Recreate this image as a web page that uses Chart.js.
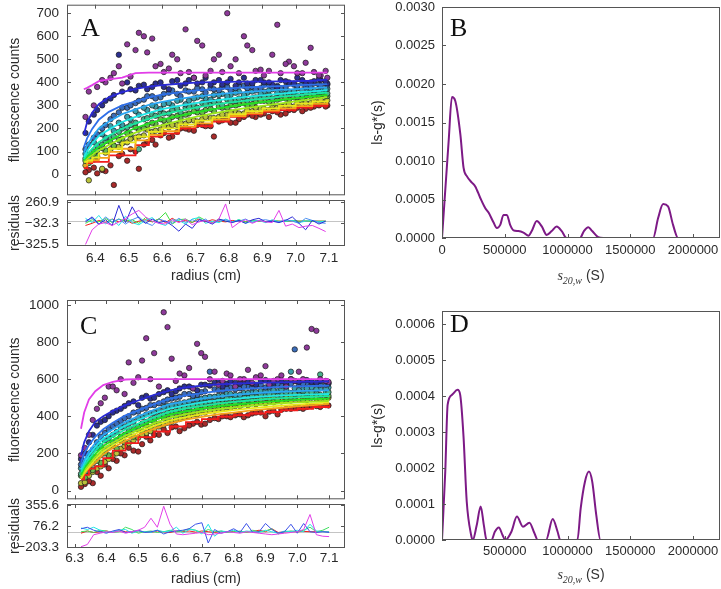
<!DOCTYPE html>
<html>
<head>
<meta charset="utf-8">
<script src="https://cdn.jsdelivr.net/npm/chart.js@4.4.1/dist/chart.umd.min.js"></script>
<style>
  body { margin: 0; background: #fff; width: 721px; height: 589px; overflow: hidden; position: relative;
         font-family: "Liberation Sans", Arial, sans-serif; }
  canvas { position: absolute; }
  .letter { position: absolute; font-family: "Liberation Serif", "Times New Roman", serif;
            font-size: 26px; line-height: 26px; color: #111; }
  .stitle { position: absolute; width: 200px; text-align: center; font-size: 14px; line-height: 16px; color: #333; }
  .stitle i { font-family: "Liberation Serif", serif; }
  .stitle sub { font-size: 10px; }
</style>
</head>
<body>
<canvas id="cA" width="360" height="200" style="left:0;top:0"></canvas>
<canvas id="rA" width="360" height="100" style="left:0;top:190px"></canvas>
<canvas id="cB" width="361" height="290" style="left:360px;top:0"></canvas>
<canvas id="cC" width="360" height="214" style="left:0;top:290px"></canvas>
<canvas id="rC" width="360" height="95" style="left:0;top:494px"></canvas>
<canvas id="cD" width="361" height="299" style="left:360px;top:290px"></canvas>

<div class="letter" style="left:81px;top:15px">A</div>
<div class="letter" style="left:450px;top:15px">B</div>
<div class="letter" style="left:80px;top:313px">C</div>
<div class="letter" style="left:450px;top:311px">D</div>
<div class="stitle" style="left:481px;top:267px"><i>s</i><sub><i>20,w</i></sub> (S)</div>
<div class="stitle" style="left:481px;top:566px"><i>s</i><sub><i>20,w</i></sub> (S)</div>

<script>
// ---- panel A: fitted curves ----
const XA = [6.365, 6.375, 6.39, 6.41, 6.44, 6.48, 6.52, 6.56, 6.60, 6.65, 6.70, 6.75, 6.80, 6.85, 6.90, 6.95, 7.00, 7.05, 7.095];
const A_MAGENTA = [370, 376, 388, 405, 413, 421, 440, 442, 442, 442, 442, 442, 442, 442, 442, 442, 442, 442, 442];
const A_NAVY = [173, 228, 268, 305, 335, 358, 372, 382, 388, 394, 399, 401, 402, 403, 403, 404, 405, 407, 412];
const A_BLUE = [118, 158, 198, 238, 272, 300, 318, 335, 347, 357, 365, 370, 374, 378, 381, 384, 387, 390, 392];
const A_SKY = [95, 128, 162, 200, 230, 262, 283, 302, 315, 328, 338, 346, 353, 358, 363, 367, 371, 375, 378];
const A_CYAN = [76, 102, 135, 168, 195, 228, 250, 268, 284, 298, 310, 320, 329, 337, 344, 350, 356, 361, 366];
const A_AQUA = [68, 88, 112, 140, 168, 200, 222, 242, 260, 276, 290, 302, 312, 321, 329, 337, 344, 350, 356];
const A_GREEN = [62, 78, 96, 120, 145, 176, 202, 222, 238, 255, 270, 283, 295, 305, 314, 323, 331, 339, 346];
const A_LIME = [58, 70, 85, 105, 128, 158, 182, 202, 215, 233, 250, 264, 277, 288, 298, 308, 318, 327, 336];
const A_YELLOW = [55, 62, 74, 92, 112, 140, 165, 185, 200, 218, 234, 248, 262, 275, 287, 298, 308, 317, 326];
const A_ORANGE = [40, 55, 62, 72, 98, 112, 148, 172, 188, 208, 222, 238, 254, 266, 277, 287, 297, 307, 316];
const A_RED = [28, 50, 55, 55, 83, 83, 128, 165, 178, 200, 210, 230, 250, 262, 272, 280, 290, 298, 306];

// ---- panel A: data points ----
const XS_A1 = [6.37, 6.395, 6.42, 6.445, 6.47, 6.495, 6.52, 6.545, 6.57, 6.595, 6.62, 6.645, 6.67, 6.695, 6.72, 6.745, 6.77, 6.795, 6.82, 6.845, 6.87, 6.895, 6.92, 6.945, 6.97, 6.995, 7.02, 7.045, 7.07, 7.09];
const XS_A2 = [6.38, 6.405, 6.43, 6.455, 6.48, 6.505, 6.53, 6.555, 6.58, 6.605, 6.63, 6.655, 6.68, 6.705, 6.73, 6.755, 6.78, 6.805, 6.83, 6.855, 6.88, 6.905, 6.93, 6.955, 6.98, 7.005, 7.03, 7.055, 7.075, 7.095];
const PA_PURPLE1 = [250, 300, 410, 420, 470, 565, 540, 600, 590, 480, 460, 500, 630, 420, 560, 450, 520, 700, 500, 600, 540, 455, 450, 650, 480, 470, 440, 550, 430, 450];
const PA_PURPLE2 = [360, 380, 400, 440, 395, 425, 615, 530, 470, 445, 520, 440, 445, 580, 430, 500, 445, 470, 440, 560, 450, 430, 520, 440, 490, 440, 485, 445, 430, 420];
const PA_NAVY = [180, 260, 300, 330, 520, 400, 365, 390, 380, 400, 370, 410, 395, 420, 400, 390, 410, 400, 385, 420, 395, 410, 400, 380, 405, 395, 410, 400, 415, 405];
const PA_NAVY2 = [230, 280, 320, 345, 360, 370, 385, 370, 395, 380, 405, 385, 410, 395, 420, 400, 390, 415, 400, 395, 410, 400, 390, 410, 400, 420, 395, 405, 410, 395];
const PA_STEEL = [130, 175, 215, 255, 290, 300, 320, 340, 330, 350, 365, 340, 360, 375, 355, 370, 380, 365, 385, 375, 370, 390, 380, 375, 395, 385, 380, 395, 385, 390];
const PA_STEEL2 = [110, 160, 200, 240, 270, 290, 310, 325, 340, 335, 355, 350, 365, 360, 370, 375, 365, 380, 375, 385, 380, 375, 390, 385, 380, 390, 395, 385, 390, 395];
const PA_TEAL = [90, 140, 175, 210, 225, 250, 275, 290, 300, 285, 310, 320, 305, 330, 340, 325, 345, 340, 355, 345, 360, 350, 365, 355, 370, 360, 365, 375, 360, 370];
const PA_TEAL2 = [85, 125, 160, 190, 215, 240, 260, 280, 295, 305, 300, 325, 320, 335, 330, 345, 350, 345, 360, 355, 365, 360, 370, 365, 360, 375, 370, 365, 375, 372];
const PA_SEA = [75, 105, 145, 165, 200, 215, 110, 245, 255, 265, 280, 270, 295, 290, 305, 315, 300, 320, 330, 320, 335, 340, 330, 345, 350, 340, 355, 350, 358, 352];
const PA_SEA2 = [70, 100, 130, 160, 185, 205, 225, 240, 260, 270, 265, 285, 290, 300, 310, 305, 320, 325, 320, 335, 330, 340, 345, 340, 350, 355, 345, 360, 355, 360];
const PA_GREEN = [60, 90, 115, 140, 150, 180, 205, 200, 225, 240, 235, 255, 260, 275, 270, 285, 295, 290, 300, 310, 305, 320, 315, 325, 330, 335, 330, 340, 345, 342];
const PA_GREEN2 = [50, 80, 105, 125, 155, 175, 195, 215, 220, 235, 250, 245, 265, 270, 280, 275, 290, 300, 305, 300, 315, 320, 310, 330, 325, 335, 340, 335, 345, 340];
const PA_OLIVE = [-25, 75, 95, 125, 135, 155, 165, 195, 190, 210, 215, 225, 235, 230, 250, 245, 260, 270, 265, 280, 290, 285, 300, 295, 305, 315, 310, 320, 325, 322];
const PA_OLIVE2 = [40, 65, 25, 110, 120, 140, 160, 170, 185, 195, 205, 215, 220, 235, 240, 245, 250, 260, 270, 265, 275, 285, 280, 290, 300, 295, 305, 310, 315, 318];
const PA_RED1 = [10, 30, 20, 40, 80, 60, 100, 130, 150, 170, 160, 185, 200, 190, 215, 210, 230, 240, 225, 250, 255, 260, 250, 270, 265, 280, 275, 290, 300, 295];
const PA_RED2 = [20, 5, 15, -45, 90, 110, 25, 140, 130, 180, 165, 200, 195, 215, 210, 165, 235, 225, 240, 260, 250, 265, 275, 260, 280, 290, 285, 295, 305, 300];

// ---- panel A: residuals ----
const XR_A = [6.37, 6.39, 6.41, 6.43, 6.45, 6.47, 6.49, 6.51, 6.53, 6.55, 6.57, 6.59, 6.61, 6.63, 6.65, 6.67, 6.69, 6.71, 6.73, 6.75, 6.77, 6.79, 6.81, 6.83, 6.85, 6.87, 6.89, 6.91, 6.93, 6.95, 6.97, 6.99, 7.01, 7.03, 7.05, 7.07, 7.09];
const RA_MAGENTA = [-325, -120, -40, -20, -60, -10, 40, 100, 150, 60, 0, -30, -40, 20, -20, 30, -50, -10, 10, -30, 30, 240, -90, -20, 20, -30, 10, -10, -20, 150, -70, -40, -90, -70, -60, -100, -145];
const RA_BLUE = [-10, 60, -40, 20, -60, 220, -20, 200, 40, -30, 30, -20, 0, -60, -140, -40, -100, 20, 0, -40, 30, 0, -20, 10, -30, 20, 40, -10, 0, -20, 10, 60, -30, -120, 10, -40, 0];
const RA_SKY = [10, 40, -50, 60, -10, 30, -40, 20, 60, -20, -60, 30, 0, -30, 40, -20, 20, -10, 30, -40, 10, 20, -10, 0, 30, -20, 10, 20, 0, -10, 20, 0, -30, 40, 10, -20, -30];
const RA_CYAN = [40, -20, 80, -40, 30, -60, 70, -20, -50, 10, 50, -30, -60, 20, 10, -40, 30, 50, -30, 0, -20, 30, -10, 20, -30, 0, 10, -20, 20, -10, 0, 10, -20, 0, 10, -10, 0];
const RA_GREEN = [-30, 20, -10, 40, -20, 30, 0, 20, -30, 50, -10, 30, 120, -40, 20, 30, -20, 60, 10, -20, 30, 0, -10, 20, -10, 10, 0, -10, 10, 0, -5, 10, 0, 5, -5, 0, 0];
const RA_RED = [-60, -30, 10, -20, 30, -10, 20, -30, 0, 20, -10, 30, -20, 40, -10, 10, -20, 30, -10, 20, 0, -10, 10, 0, -10, 10, 0, -5, 5, 0, -5, 5, 0, 0, 5, 0, 0];

// ---- panel B ----
const BX = [0, 53000, 79000, 106000, 146000, 172000, 199000, 238000, 265000, 305000, 344000, 371000, 411000, 437000, 464000, 490000, 517000, 543000, 570000, 609000, 649000, 689000, 715000, 755000, 795000, 834000, 874000, 914000, 954000, 993000, 1099000, 1131000, 1166000, 1197000, 1245000, 1285000, 1682000, 1722000, 1762000, 1801000, 1841000, 1881000, 2215000];
const BY = [0, 0.00126, 0.00183, 0.00178, 0.00135, 0.00091, 0.0008, 0.00072, 0.00067, 0.00052, 0.00039, 0.00033, 0.0002, 0.00013, 0.00017, 0.0003, 0.0003, 0.00017, 0.0001, 0.00009, 0.00007, 0.00003, 0.00009, 0.00022, 0.00015, 0.00004, 0.00009, 0.00015, 0.00009, 0, 0, 0.00009, 0.00014, 0.00009, 0.00001, 0, 0, 0.00026, 0.00044, 0.00041, 0.00017, 0, 0];

// ---- panel C: fitted curves ----
const XC = [6.32, 6.33, 6.345, 6.365, 6.39, 6.42, 6.46, 6.50, 6.55, 6.60, 6.65, 6.70, 6.75, 6.80, 6.85, 6.90, 6.95, 7.00, 7.05, 7.10];
const C_MAGENTA = [333, 420, 490, 535, 568, 585, 598, 600, 600, 600, 600, 600, 600, 600, 600, 600, 600, 600, 600, 600];
const C_NAVY = [190, 260, 320, 370, 400, 430, 460, 485, 515, 540, 555, 565, 572, 576, 579, 581, 583, 585, 587, 588];
const C_BLUE = [150, 200, 245, 290, 330, 365, 405, 432, 465, 495, 512, 525, 535, 543, 549, 554, 558, 561, 563, 565];
const C_SKY = [125, 165, 210, 255, 300, 330, 370, 400, 435, 465, 480, 495, 506, 515, 522, 528, 532, 535, 538, 540];
const C_CYAN = [115, 150, 190, 235, 280, 310, 350, 380, 415, 442, 460, 475, 486, 494, 501, 507, 512, 515, 518, 520];
const C_AQUA = [100, 135, 170, 215, 260, 290, 330, 360, 395, 425, 442, 456, 468, 477, 485, 492, 498, 502, 505, 508];
const C_GREEN = [85, 120, 155, 198, 240, 272, 312, 343, 378, 410, 427, 441, 453, 462, 470, 477, 483, 488, 492, 495];
const C_LIME = [75, 108, 140, 182, 225, 258, 296, 327, 362, 393, 411, 426, 438, 447, 456, 463, 470, 475, 479, 483];
const C_YELLOW = [68, 98, 128, 168, 210, 244, 282, 313, 348, 378, 396, 411, 423, 433, 442, 450, 457, 463, 469, 475];
const C_ORANGE = [62, 90, 122, 150, 195, 230, 268, 300, 333, 362, 382, 397, 410, 420, 430, 438, 446, 453, 460, 467];
const C_RED = [60, 85, 118, 130, 175, 215, 255, 288, 318, 345, 368, 385, 398, 406, 415, 423, 432, 440, 450, 458];

// ---- panel C: data points ----
const XS_C1 = [6.32, 6.345, 6.37, 6.395, 6.42, 6.445, 6.47, 6.50, 6.525, 6.55, 6.58, 6.605, 6.63, 6.66, 6.685, 6.71, 6.74, 6.765, 6.79, 6.82, 6.845, 6.87, 6.90, 6.925, 6.95, 6.98, 7.005, 7.03, 7.06, 7.09];
const XS_C2 = [6.332, 6.357, 6.382, 6.407, 6.432, 6.457, 6.485, 6.512, 6.538, 6.565, 6.592, 6.618, 6.645, 6.672, 6.698, 6.725, 6.752, 6.778, 6.805, 6.832, 6.858, 6.885, 6.912, 6.938, 6.965, 6.992, 7.018, 7.045, 7.072, 7.098];
const PC_PURPLE1 = [190, 300, 440, 500, 560, 600, 690, 610, 820, 740, 960, 710, 630, 660, 790, 720, 640, 590, 620, 600, 650, 610, 670, 590, 620, 600, 640, 770, 860, 590];
const PC_PURPLE2 = [230, 380, 470, 560, 540, 520, 580, 700, 600, 560, 880, 590, 620, 550, 740, 600, 570, 630, 560, 600, 580, 620, 570, 600, 560, 590, 600, 870, 600, 585];
const PC_NAVY = [170, 260, 350, 380, 420, 440, 470, 460, 510, 500, 530, 520, 550, 560, 540, 570, 580, 560, 590, 575, 585, 570, 595, 580, 590, 600, 585, 595, 580, 590];
const PC_NAVY2 = [200, 300, 370, 400, 430, 455, 480, 500, 495, 520, 540, 535, 560, 550, 570, 565, 585, 575, 580, 590, 575, 590, 585, 595, 580, 590, 595, 585, 590, 580];
const PC_STEEL = [150, 220, 290, 330, 360, 390, 420, 440, 460, 470, 490, 500, 520, 510, 530, 640, 540, 550, 545, 560, 555, 570, 560, 575, 570, 760, 575, 580, 570, 575];
const PC_STEEL2 = [140, 200, 260, 310, 345, 375, 400, 425, 445, 460, 480, 495, 505, 520, 515, 535, 545, 540, 555, 550, 560, 565, 555, 570, 565, 575, 570, 580, 575, 570];
const PC_TEAL = [120, 170, 230, 270, 300, 340, 360, 390, 410, 420, 450, 460, 470, 480, 490, 500, 505, 510, 520, 515, 525, 530, 535, 540, 545, 640, 540, 550, 545, 550];
const PC_TEAL2 = [130, 180, 240, 280, 315, 345, 370, 395, 415, 430, 455, 465, 475, 490, 495, 505, 510, 520, 515, 525, 530, 535, 540, 535, 545, 550, 545, 555, 550, 555];
const PC_SEA = [100, 145, 190, 230, 270, 300, 330, 360, 380, 400, 420, 430, 445, 460, 470, 480, 490, 495, 500, 505, 510, 515, 520, 525, 530, 520, 535, 530, 625, 530];
const PC_SEA2 = [90, 135, 180, 220, 255, 290, 320, 345, 370, 390, 410, 425, 440, 450, 465, 475, 480, 490, 495, 500, 505, 510, 515, 520, 515, 525, 530, 525, 535, 530];
const PC_GREEN = [80, 120, 160, 200, 240, 270, 300, 330, 350, 370, 390, 405, 420, 430, 445, 455, 465, 470, 480, 485, 490, 495, 500, 505, 510, 505, 515, 510, 520, 515];
const PC_GREEN2 = [70, 110, 150, 190, 225, 260, 290, 320, 340, 360, 385, 395, 410, 425, 435, 445, 455, 465, 470, 475, 485, 490, 495, 490, 500, 505, 510, 505, 515, 510];
const PC_OLIVE = [45, 100, 130, 170, 200, 240, 270, 300, 320, 345, 365, 380, 395, 410, 420, 430, 440, 450, 455, 465, 470, 475, 480, 485, 490, 495, 490, 500, 495, 500];
const PC_OLIVE2 = [40, 80, 120, 155, 190, 225, 255, 285, 310, 330, 355, 370, 385, 400, 410, 420, 430, 440, 445, 455, 460, 465, 470, 475, 480, 485, 490, 488, 495, 492];
const PC_RED1 = [20, 50, 100, 140, 170, 200, 230, 210, 290, 300, 330, 340, 320, 350, 370, 360, 390, 400, 395, 410, 405, 420, 400, 430, 435, 440, 445, 450, 455, 460];
const PC_RED2 = [35, 40, 80, 120, 160, 190, 215, 250, 270, 300, 310, 345, 335, 360, 355, 380, 385, 400, 405, 395, 415, 420, 425, 410, 440, 445, 440, 455, 450, 458];

// ---- panel C: residuals ----
const XR_C = [6.32, 6.34, 6.36, 6.38, 6.40, 6.42, 6.44, 6.46, 6.48, 6.50, 6.52, 6.54, 6.56, 6.58, 6.60, 6.62, 6.64, 6.66, 6.68, 6.70, 6.72, 6.74, 6.76, 6.78, 6.80, 6.82, 6.84, 6.86, 6.88, 6.90, 6.92, 6.94, 6.96, 6.98, 7.00, 7.02, 7.04, 7.06, 7.08, 7.10];
const RC_MAGENTA = [-200, -170, -40, -20, 0, -10, 10, -20, 0, 20, 60, 180, 60, 340, 100, -30, -40, -30, -20, -10, -40, -30, -20, 0, -10, -20, 0, -10, -20, -30, -40, -30, -20, -10, 0, 30, 230, -40, -60, -65];
const RC_BLUE = [40, 60, 20, 0, -20, 10, 30, -10, 0, 20, -10, 0, 20, -30, 0, 10, 20, 40, 100, 120, -150, 30, -20, 0, 40, -10, 110, -10, 0, 110, 30, -20, 0, 100, -20, 110, 0, -10, 0, -10];
const RC_CYAN = [50, 30, 60, 20, -10, 0, 20, 30, -20, 10, 0, -10, 20, 0, 10, 60, -20, 30, 20, -30, 100, -60, 10, 0, 20, -10, 10, 0, -10, 20, 0, -20, 10, 0, 20, 0, 100, 10, 0, 0];
const RC_GREEN = [0, 10, -10, 20, 10, -10, 0, 60, 30, -20, 0, 10, -10, 0, 20, 0, 10, 40, 20, -10, 30, 0, 10, -10, 0, 10, -10, 20, 0, 10, 40, -30, 0, 10, 0, 20, 60, 0, 20, 60];
const RC_RED = [-20, 10, -10, 0, 10, -10, 20, 0, -10, 10, 0, -10, 10, 0, -10, 10, 0, 10, -5, 10, 0, -10, 5, 0, 5, 0, -5, 5, 20, 0, 40, -10, 0, 5, 0, 5, 0, 0, 5, 0];

// ---- panel D ----
const DX = [0, 26000, 45000, 79000, 124000, 145000, 171000, 197000, 232000, 245000, 276000, 308000, 334000, 355000, 395000, 421000, 453000, 482000, 505000, 553000, 597000, 645000, 697000, 735000, 763000, 829000, 882000, 921000, 942000, 1079000, 1105000, 1139000, 1171000, 1197000, 1229000, 1263000, 2215000];
const DY = [0, 0.00019, 0.000376, 0.000403, 0.000417, 0.000403, 0.00029, 0.000107, 0.000014, 0, 0.00004, 0.000093, 0.00004, 0, 0, 0.000023, 0.000035, 0.000014, 0, 0.000023, 0.000065, 0.000037, 0.000048, 0.00002, 0, 0, 0.000058, 0.000023, 0, 0, 0.000088, 0.000162, 0.00019, 0.000162, 0.00007, 0, 0];

// ---- tick labels ----
const XTICKS_A = [6.4, 6.5, 6.6, 6.7, 6.8, 6.9, 7.0, 7.1];
const YTICKS_A = [0, 100, 200, 300, 400, 500, 600, 700];
const RTICKS_A = [-325.5, -32.3, 260.9];
const XTICKS_C = [6.3, 6.4, 6.5, 6.6, 6.7, 6.8, 6.9, 7.0, 7.1];
const YTICKS_C = [0, 200, 400, 600, 800, 1000];
const RTICKS_C = [-203.3, 76.2, 355.6];
const XTICKS_B = [0, 500000, 1000000, 1500000, 2000000];
const YTICKS_B = [0, 0.0005, 0.001, 0.0015, 0.002, 0.0025, 0.003];
const XTICKS_D = [500000, 1000000, 1500000, 2000000];
const YTICKS_D = [0, 0.0001, 0.0002, 0.0003, 0.0004, 0.0005, 0.0006];

const SANS = '"Liberation Sans", Arial, sans-serif';
const TXT = '#2a2a2a';
const LINE_COL = {
  magenta: '#e23ee8', navy: '#2a2ad6', blue: '#2f6fe8', sky: '#2aa6f2', cyan: '#1fe6e6', aqua: '#18e8a0',
  green: '#22e022', lime: '#9ee81a', yellow: '#e8e81c', orange: '#f6a01a', red: '#f21c1c'
};
const DOT_COL = {
  purple: '#8e3a9a', navy: '#2c2f90', steel: '#3b6cb8', teal: '#3a9eaa', sea: '#48b089',
  green: '#66b84c', olive: '#b9c23a', red: '#a82a2a'
};

// box around the plot area, inward tick marks, optional zero line
const framePlugin = {
  id: 'frame',
  beforeDatasetsDraw(chart, args, o) {
    if (!o.zero) return;
    const { ctx, chartArea: a } = chart;
    const y = Math.round(chart.scales.y.getPixelForValue(0)) + 0.5;
    ctx.save();
    ctx.strokeStyle = '#c4c4c4';
    ctx.lineWidth = 1;
    ctx.beginPath(); ctx.moveTo(a.left, y); ctx.lineTo(a.right, y); ctx.stroke();
    ctx.restore();
  },
  afterDraw(chart, args, o) {
    const { ctx, chartArea: a } = chart;
    const len = 4;
    ctx.save();
    ctx.strokeStyle = '#555';
    ctx.lineWidth = 1;
    ctx.strokeRect(a.left + 0.5, a.top + 0.5, a.width - 1, a.height - 1);
    ctx.beginPath();
    (o.xt || []).forEach(v => {
      const x = Math.round(chart.scales.x.getPixelForValue(v)) + 0.5;
      ctx.moveTo(x, a.bottom); ctx.lineTo(x, a.bottom - len);
      if (o.mirror) { ctx.moveTo(x, a.top); ctx.lineTo(x, a.top + len); }
    });
    (o.yt || []).forEach(v => {
      const y = Math.round(chart.scales.y.getPixelForValue(v)) + 0.5;
      ctx.moveTo(a.left, y); ctx.lineTo(a.left + len, y);
      if (o.mirror) { ctx.moveTo(a.right, y); ctx.lineTo(a.right - len, y); }
    });
    ctx.stroke();
    ctx.restore();
  }
};

function pts(xs, ys) { return xs.map((x, i) => ({ x, y: ys[i] })); }

function curve(xs, ys, color, stepped) {
  return { data: pts(xs, ys), showLine: true, borderColor: color, borderWidth: 1.8,
           pointRadius: 0, stepped: stepped || false, tension: 0, order: 1 };
}
function dots(xs, ys, color) {
  return { data: pts(xs, ys), showLine: false, pointRadius: 2.7, pointBackgroundColor: color,
           pointBorderColor: '#1a1a1a', pointBorderWidth: 0.7, order: 2 };
}
function resid(xs, ys, color) {
  return { data: pts(xs, ys), showLine: true, borderColor: color, borderWidth: 1,
           pointRadius: 0, tension: 0, order: 1 };
}
function dist(xs, ys) {
  return { data: pts(xs, ys), showLine: true, borderColor: '#7d1a86', borderWidth: 2,
           pointRadius: 0, cubicInterpolationMode: 'monotone', tension: 0.4 };
}

function fixTicks(list) { return s => { s.ticks = list.map(v => ({ value: v })); }; }
// keep the plot area exactly where the layout padding puts it
function noEdge(s) { s.paddingTop = 0; s.paddingBottom = 0; s.paddingLeft = 0; s.paddingRight = 0; }
const minus = s => s.replace('-', '\u2212');

function yAxis(o) {
  return {
    type: 'linear', min: o.min, max: o.max,
    afterBuildTicks: fixTicks(o.ticks),
    afterFit: s => { s.width = o.width; noEdge(s); },
    grid: { display: false, drawTicks: false }, border: { display: false },
    ticks: { padding: o.pad, color: TXT, font: { family: SANS, size: o.size }, callback: o.fmt },
    title: { display: !!o.title, text: o.title, color: TXT, font: { family: SANS, size: 14 },
             padding: { top: o.tpad, bottom: 0 } }
  };
}
function xAxis(o) {
  return {
    type: 'linear', min: o.min, max: o.max, display: o.display,
    afterBuildTicks: fixTicks(o.ticks),
    afterFit: s => { s.height = o.height || 0; noEdge(s); },
    grid: { display: false, drawTicks: false }, border: { display: false },
    ticks: { padding: o.pad || 0, color: TXT, maxRotation: 0, autoSkip: false,
             font: { family: SANS, size: o.size || 13.5 }, callback: o.fmt },
    title: { display: !!o.title, text: o.title, color: TXT, font: { family: SANS, size: 14 },
             padding: { top: 0, bottom: o.tpad || 0 } }
  };
}

function make(id, datasets, x, y, pad, frame) {
  return new Chart(document.getElementById(id), {
    type: 'scatter',
    data: { datasets },
    options: {
      responsive: false, animation: false, devicePixelRatio: 1,
      layout: { padding: pad },
      plugins: { legend: { display: false }, tooltip: { enabled: false }, frame },
      scales: { x, y }
    },
    plugins: [framePlugin]
  });
}

const f0 = v => String(v);
const f1 = v => minus(v.toFixed(1));
const f4 = v => v.toFixed(4);

// ---- A main ----
make('cA', [
  curve(XA, A_MAGENTA, LINE_COL.magenta), curve(XA, A_NAVY, LINE_COL.navy), curve(XA, A_BLUE, LINE_COL.blue),
  curve(XA, A_SKY, LINE_COL.sky), curve(XA, A_CYAN, LINE_COL.cyan), curve(XA, A_AQUA, LINE_COL.aqua),
  curve(XA, A_GREEN, LINE_COL.green), curve(XA, A_LIME, LINE_COL.lime), curve(XA, A_YELLOW, LINE_COL.yellow, true),
  curve(XA, A_ORANGE, LINE_COL.orange, true), curve(XA, A_RED, LINE_COL.red, true),
  dots(XS_A1, PA_PURPLE1, DOT_COL.purple), dots(XS_A2, PA_PURPLE2, DOT_COL.purple),
  dots(XS_A1, PA_NAVY, DOT_COL.navy), dots(XS_A2, PA_NAVY2, DOT_COL.navy),
  dots(XS_A2, PA_STEEL, DOT_COL.steel), dots(XS_A1, PA_STEEL2, DOT_COL.steel),
  dots(XS_A1, PA_TEAL, DOT_COL.teal), dots(XS_A2, PA_TEAL2, DOT_COL.teal),
  dots(XS_A2, PA_SEA, DOT_COL.sea), dots(XS_A1, PA_SEA2, DOT_COL.sea),
  dots(XS_A1, PA_GREEN, DOT_COL.green), dots(XS_A2, PA_GREEN2, DOT_COL.green),
  dots(XS_A2, PA_OLIVE, DOT_COL.olive), dots(XS_A1, PA_OLIVE2, DOT_COL.olive),
  dots(XS_A1, PA_RED1, DOT_COL.red), dots(XS_A2, PA_RED2, DOT_COL.red)
],
  xAxis({ min: 6.3146, max: 7.148, display: false, ticks: XTICKS_A }),
  yAxis({ min: -90, max: 737, ticks: YTICKS_A, width: 67, pad: 8, size: 13.5, fmt: f0,
          title: 'fluorescence counts', tpad: 7 }),
  { top: 1, right: 15, bottom: 0, left: 0 },
  { xt: XTICKS_A, yt: YTICKS_A, mirror: true });

// ---- A residuals ----
make('rA', [
  resid(XR_A, RA_MAGENTA, LINE_COL.magenta), resid(XR_A, RA_BLUE, LINE_COL.navy), resid(XR_A, RA_SKY, '#4a90f0'),
  resid(XR_A, RA_CYAN, LINE_COL.cyan), resid(XR_A, RA_GREEN, '#40e040'), resid(XR_A, RA_RED, LINE_COL.red)
],
  xAxis({ min: 6.3146, max: 7.148, display: true, ticks: XTICKS_A, height: 44, pad: 4, fmt: f1,
          title: 'radius (cm)', tpad: 5 }),
  yAxis({ min: -346, max: 295, ticks: RTICKS_A, width: 67, pad: 8, size: 13.5, fmt: f1,
          title: 'residuals', tpad: 7 }),
  { top: 10, right: 15, bottom: 0, left: 0 },
  { xt: XTICKS_A, yt: RTICKS_A, mirror: true, zero: true });

// ---- B ----
make('cB', [dist(BX, BY)],
  xAxis({ min: 0, max: 2215000, display: true, ticks: XTICKS_B, height: 52, pad: 5, size: 13, fmt: f0 }),
  yAxis({ min: 0, max: 0.003, ticks: YTICKS_B, width: 82, pad: 7, size: 13, fmt: f4,
          title: 'ls-g*(s)', tpad: 10 }),
  { top: 7, right: 1, bottom: 0, left: 0 },
  { xt: XTICKS_B, yt: YTICKS_B, mirror: false });

// ---- C main ----
make('cC', [
  curve(XC, C_MAGENTA, LINE_COL.magenta), curve(XC, C_NAVY, LINE_COL.navy), curve(XC, C_BLUE, LINE_COL.blue),
  curve(XC, C_SKY, LINE_COL.sky), curve(XC, C_CYAN, LINE_COL.cyan), curve(XC, C_AQUA, LINE_COL.aqua),
  curve(XC, C_GREEN, LINE_COL.green), curve(XC, C_LIME, LINE_COL.lime), curve(XC, C_YELLOW, LINE_COL.yellow),
  curve(XC, C_ORANGE, LINE_COL.orange), curve(XC, C_RED, LINE_COL.red, true),
  dots(XS_C1, PC_PURPLE1, DOT_COL.purple), dots(XS_C2, PC_PURPLE2, DOT_COL.purple),
  dots(XS_C1, PC_NAVY, DOT_COL.navy), dots(XS_C2, PC_NAVY2, DOT_COL.navy),
  dots(XS_C2, PC_STEEL, DOT_COL.steel), dots(XS_C1, PC_STEEL2, DOT_COL.steel),
  dots(XS_C1, PC_TEAL, DOT_COL.teal), dots(XS_C2, PC_TEAL2, DOT_COL.teal),
  dots(XS_C2, PC_SEA, DOT_COL.sea), dots(XS_C1, PC_SEA2, DOT_COL.sea),
  dots(XS_C1, PC_GREEN, DOT_COL.green), dots(XS_C2, PC_GREEN2, DOT_COL.green),
  dots(XS_C2, PC_OLIVE, DOT_COL.olive), dots(XS_C1, PC_OLIVE2, DOT_COL.olive),
  dots(XS_C1, PC_RED1, DOT_COL.red), dots(XS_C2, PC_RED2, DOT_COL.red)
],
  xAxis({ min: 6.276, max: 7.15, display: false, ticks: XTICKS_C }),
  yAxis({ min: -47, max: 1026, ticks: YTICKS_C, width: 67, pad: 8, size: 13.5, fmt: f0,
          title: 'fluorescence counts', tpad: 7 }),
  { top: 10, right: 15, bottom: 0, left: 0 },
  { xt: XTICKS_C, yt: YTICKS_C, mirror: true });

// ---- C residuals ----
make('rC', [
  resid(XR_C, RC_MAGENTA, LINE_COL.magenta), resid(XR_C, RC_BLUE, '#3a50e8'), resid(XR_C, RC_CYAN, LINE_COL.cyan),
  resid(XR_C, RC_GREEN, '#40e060'), resid(XR_C, RC_RED, LINE_COL.red)
],
  xAxis({ min: 6.276, max: 7.15, display: true, ticks: XTICKS_C, height: 41, pad: 2, fmt: f1,
          title: 'radius (cm)', tpad: 1 }),
  yAxis({ min: -217, max: 370, ticks: RTICKS_C, width: 67, pad: 8, size: 13.5, fmt: f1,
          title: 'residuals', tpad: 7 }),
  { top: 10, right: 15, bottom: 0, left: 0 },
  { xt: XTICKS_C, yt: RTICKS_C, mirror: true, zero: true });

// ---- D ----
make('cD', [dist(DX, DY)],
  xAxis({ min: 0, max: 2215000, display: true, ticks: XTICKS_D, height: 49, pad: 4, size: 13, fmt: f0 }),
  yAxis({ min: 0, max: 0.000636, ticks: YTICKS_D, width: 82, pad: 7, size: 13, fmt: f4,
          title: 'ls-g*(s)', tpad: 10 }),
  { top: 21, right: 1, bottom: 0, left: 0 },
  { xt: XTICKS_D, yt: YTICKS_D, mirror: false });
</script>
</body>
</html>
